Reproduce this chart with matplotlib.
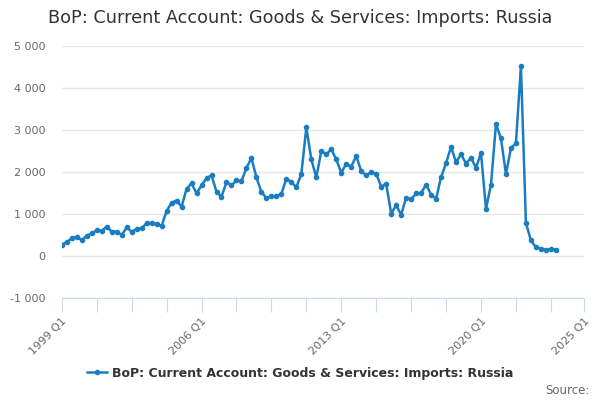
import matplotlib
matplotlib.use('Agg')
import matplotlib.pyplot as plt
from matplotlib.ticker import FuncFormatter

# quarterly values, 1999 Q1 .. 2023 Q4
start_year = 1999
imports_russia = [
    270, 330, 420, 450, 380, 480, 540, 610, 600, 700,
    580, 580, 500, 680, 580, 640, 660, 780, 780, 760,
    720, 1070, 1270, 1320, 1170, 1600, 1730, 1490, 1680, 1850,
    1920, 1530, 1410, 1760, 1680, 1800, 1780, 2100, 2330, 1870,
    1520, 1380, 1420, 1420, 1480, 1840, 1760, 1640, 1950, 3060,
    2300, 1870, 2500, 2420, 2540, 2300, 1980, 2200, 2130, 2380,
    2020, 1920, 2000, 1960, 1650, 1720, 1010, 1210, 980, 1390,
    1350, 1490, 1500, 1700, 1460, 1360, 1880, 2210, 2600, 2230,
    2420, 2200, 2340, 2100, 2450, 1120, 1700, 3140, 2800, 1950,
    2570, 2680, 4530, 790, 370, 210, 170, 150, 160, 150,
]
quarters = list(range(len(imports_russia)))
label_years = [1999, 2006, 2013, 2020, 2025]

line_color = '#1a7dc2'
axis_color = '#ccd6eb'

fig = plt.figure(figsize=(6, 4), dpi=100)
ax = fig.add_axes([0.103, 0.255, 0.870, 0.630])

ax.plot(quarters, imports_russia, color=line_color, linewidth=1.8,
        marker='o', markersize=3, zorder=3)

x_end = 104.6
ax.set_xlim(0, x_end)
ax.set_ylim(-1000, 5000)
ax.set_yticks(range(-1000, 5001, 1000))
ax.yaxis.set_major_formatter(FuncFormatter(lambda v, p: f'{int(v):,}'.replace(',', ' ')))
ax.grid(axis='y', color='#e6e6e6', linewidth=1)
ax.set_axisbelow(True)

# tick every 7 quarters, plus one at the axis end
ticks = list(range(0, 99, 7))
labels = []
for m in ticks:
    yr = start_year + m // 4
    labels.append(f'{yr} Q1' if yr in label_years and m % 4 == 0 else '')
ticks.append(x_end)
labels.append('2025 Q1')
ax.set_xticks(ticks)
ax.set_xticklabels(labels)
for t in ax.get_xticklabels():
    t.set_rotation(45)
    t.set_ha('right')
    t.set_rotation_mode('anchor')
    t.set_fontsize(8)
    t.set_color('#666666')

for s in ['top', 'right', 'left']:
    ax.spines[s].set_visible(False)
ax.spines['bottom'].set_color(axis_color)
ax.tick_params(axis='x', length=10, color=axis_color, pad=3)
ax.tick_params(axis='y', length=0, labelsize=8, labelcolor='#666666', pad=12)

fig.text(0.5, 0.955, 'BoP: Current Account: Goods & Services: Imports: Russia',
         ha='center', va='center', fontsize=12.7, color='#333333')

ax.plot([], [], color=line_color, linewidth=1.8, marker='o', markersize=3,
        label='BoP: Current Account: Goods & Services: Imports: Russia')
handles, lbls = ax.get_legend_handles_labels()
fig.legend(handles[-1:], lbls[-1:], loc='center', bbox_to_anchor=(0.5, 0.067),
           frameon=False, prop={'size': 9, 'weight': 'bold'}, labelcolor='#333333',
           handlelength=1.6, handletextpad=0.4)

fig.text(0.982, 0.025, 'Source:', ha='right', va='center', fontsize=8.5, color='#666666')

fig.savefig('out.png', dpi=100)
